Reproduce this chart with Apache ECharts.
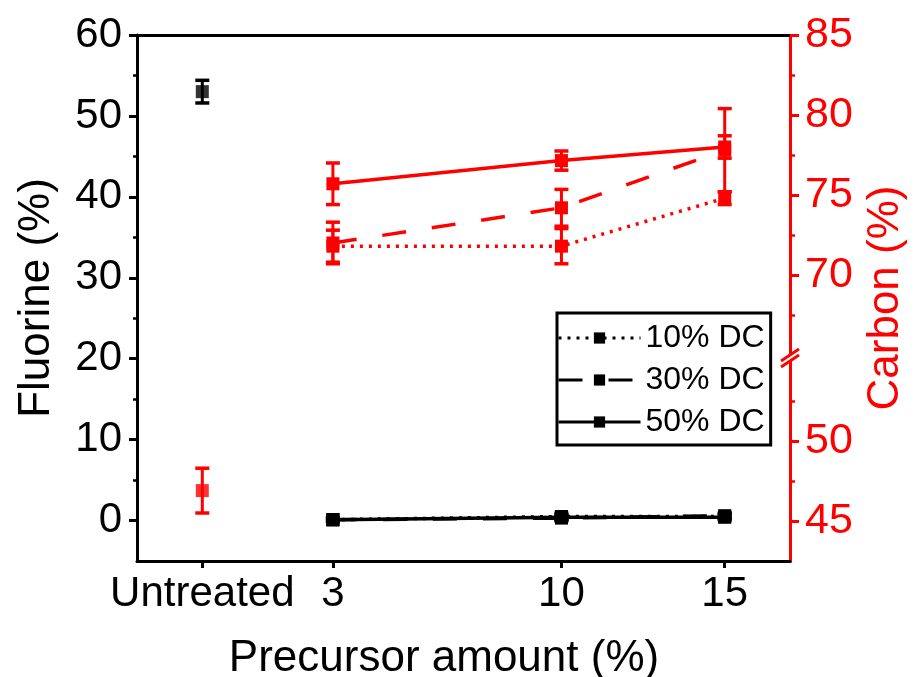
<!DOCTYPE html>
<html><head><meta charset="utf-8">
<script src="https://cdn.jsdelivr.net/npm/echarts@6/dist/echarts.min.js"></script>
<style>html,body{margin:0;padding:0;background:#fff}#c{width:915px;height:677px}</style>
</head><body><div id="c"></div>
<script>
// ---------- data ----------
const seriesNames = ['10% DC', '30% DC', '50% DC'];
const precursor = [3, 10, 15];
const untreatedX = -1;
const xTickValues = [-1, 3, 10, 15];
const xTickLabels = ['Untreated', '3', '10', '15'];
const fluorineTicks = [0, 10, 20, 30, 40, 50, 60];
const fluorineMinorTicks = [5, 15, 25, 35, 45, 55];
const carbonTicks = [45, 50, 70, 75, 80, 85];
const carbonMinorTicks = [47.5, 52.5, 67.5, 72.5, 77.5, 82.5];

// Fluorine (%) - left axis
const fluorine10 = [0.1, 0.5, 0.5];
const fluorine30 = [0.1, 0.3, 0.6];
const fluorine50 = [0.1, 0.4, 0.4];
const fluorineErr10 = [0.2, 0.4, 0.3];
const fluorineErr30 = [0.2, 0.3, 0.3];
const fluorineErr50 = [0.2, 0.3, 0.3];
const fluorineUntreated = [53.0];
const fluorineUntreatedErr = [1.4];

// Carbon (%) - right axis
const carbon10 = [71.8, 71.8, 74.8];
const carbon30 = [72.0, 74.2, 77.8];
const carbon50 = [75.7, 77.15, 78.0];
const carbonErr10 = [1.0, 1.1, 0.4];
const carbonErr30 = [1.3, 1.15, 2.6];
const carbonErr50 = [1.3, 0.6, 0.7];
const carbonUntreated = [46.9];
const carbonUntreatedErr = [1.4];

// ---------- chart ----------
const FONT = 'Liberation Sans, Arial, sans-serif';
const RED = '#ff0000';
const BLACK = '#000000';
const dashTypes = [[3, 6], [24, 26], 'solid'];

const chart = echarts.init(document.getElementById('c'), null, { renderer: 'canvas' });

function pts(xs, ys) { return xs.map((x, i) => [x, ys[i]]); }
function errPts(xs, ys, es) { return xs.map((x, i) => [x, ys[i] - es[i], ys[i] + es[i]]); }

function lineSeries(name, data, yAxisIndex, color, dash) {
  return {
    type: 'line', name: name, data: data, xAxisIndex: 0, yAxisIndex: yAxisIndex,
    symbol: 'rect', symbolSize: 13, showSymbol: true,
    itemStyle: { color: color },
    lineStyle: { color: color, width: 3.5, type: dash },
    z: 4
  };
}
function errorSeries(name, data, yAxisIndex, color) {
  return {
    type: 'custom', name: name, data: data, xAxisIndex: 0, yAxisIndex: yAxisIndex,
    silent: true, z: 3,
    encode: { x: 0, y: [1, 2] },
    renderItem: function (params, api) {
      const x = api.value(0), lo = api.value(1), hi = api.value(2);
      const p1 = api.coord([x, lo]);
      const p2 = api.coord([x, hi]);
      const hw = 7;
      const st = { stroke: color, lineWidth: 3 };
      const cap = { stroke: color, lineWidth: 3.5 };
      return { type: 'group', children: [
        { type: 'line', shape: { x1: p1[0], y1: p1[1], x2: p2[0], y2: p2[1] }, style: st },
        { type: 'line', shape: { x1: p1[0] - hw, y1: p1[1], x2: p1[0] + hw, y2: p1[1] }, style: cap },
        { type: 'line', shape: { x1: p2[0] - hw, y1: p2[1], x2: p2[0] + hw, y2: p2[1] }, style: cap }
      ]};
    }
  };
}

const fl = [fluorine10, fluorine30, fluorine50];
const flE = [fluorineErr10, fluorineErr30, fluorineErr50];
const ca = [carbon10, carbon30, carbon50];
const caE = [carbonErr10, carbonErr30, carbonErr50];

const series = [];
seriesNames.forEach((n, i) => series.push(lineSeries(n, pts(precursor, fl[i]), 0, BLACK, dashTypes[i])));
seriesNames.forEach((n, i) => series.push(lineSeries(n, pts(precursor, ca[i]), 1, RED, dashTypes[i])));
seriesNames.forEach((n, i) => series.push(errorSeries('F err ' + n, errPts(precursor, fl[i], flE[i]), 0, BLACK)));
seriesNames.forEach((n, i) => series.push(errorSeries('C err ' + n, errPts(precursor, ca[i], caE[i]), 1, RED)));
series.push(errorSeries('F err untreated', errPts([untreatedX], fluorineUntreated, fluorineUntreatedErr), 0, BLACK));
series.push(errorSeries('C err untreated', errPts([untreatedX], carbonUntreated, carbonUntreatedErr), 1, RED));
series.push({ type: 'scatter', name: 'F untreated', data: pts([untreatedX], fluorineUntreated), xAxisIndex: 0, yAxisIndex: 0,
  symbol: 'rect', symbolSize: 13, itemStyle: { color: BLACK }, z: 4 });
series.push({ type: 'scatter', name: 'C untreated', data: pts([untreatedX], carbonUntreated), xAxisIndex: 0, yAxisIndex: 1,
  symbol: 'rect', symbolSize: 13, itemStyle: { color: RED }, z: 4 });

const carbonBreaks = [{ start: 55, end: 65, gap: '1.15%' }];

const option = {
  animation: false,
  backgroundColor: '#ffffff',
  textStyle: { fontFamily: FONT },
  grid: { left: 137, right: 125, top: 35, bottom: 116, containLabel: false, outerBoundsMode: 'none' },
  legend: {
    data: seriesNames.map((n, i) => ({ name: n, lineStyle: { width: 3, type: dashTypes[i], color: BLACK } })),
    orient: 'vertical',
    left: 557, top: 313,
    padding: [9, 6, 7, 0],
    itemGap: 10,
    itemWidth: 82, itemHeight: 14,
    borderColor: BLACK, borderWidth: 3,
    backgroundColor: '#ffffff',
    lineStyle: { width: 3 },
    textStyle: { fontSize: 32, color: BLACK, fontFamily: FONT, lineHeight: 30 },
    selectedMode: false
  },
  xAxis: [
    {
      type: 'value', position: 'bottom', min: -3, max: 17,
      axisLine: { show: true, onZero: false, lineStyle: { color: BLACK, width: 3 } },
      axisTick: { show: true, inside: false, length: 7, customValues: xTickValues, lineStyle: { color: BLACK, width: 3 } },
      axisLabel: { customValues: xTickValues, color: BLACK, fontSize: 42, margin: 12, fontFamily: FONT,
        formatter: function (v) { const k = xTickValues.indexOf(v); return k >= 0 ? xTickLabels[k] : ''; } },
      splitLine: { show: false },
      name: 'Precursor amount (%)', nameLocation: 'middle', nameGap: 76,
      nameTextStyle: { fontSize: 44, color: BLACK, fontFamily: FONT, padding: [0, 39, 0, 0] }
    },
    {
      type: 'value', position: 'top', min: -3, max: 17,
      axisLine: { show: true, onZero: false, lineStyle: { color: BLACK, width: 3 } },
      axisTick: { show: false }, axisLabel: { show: false }, splitLine: { show: false }
    }
  ],
  yAxis: [
    {
      type: 'value', position: 'left', min: -5, max: 60,
      axisLine: { show: true, onZero: false, lineStyle: { color: BLACK, width: 3 } },
      axisTick: { show: true, inside: false, length: 8, customValues: fluorineTicks, lineStyle: { color: BLACK, width: 3 } },
      axisLabel: { customValues: fluorineTicks, color: BLACK, fontSize: 42, margin: 15, fontFamily: FONT },
      splitLine: { show: false },
      name: 'Fluorine (%)', nameLocation: 'middle', nameGap: 78,
      nameTextStyle: { fontSize: 44, color: BLACK, fontFamily: FONT }
    },
    {
      type: 'value', position: 'right', min: 42.5, max: 85,
      breaks: carbonBreaks,
      breakArea: { show: false },
      axisLine: { show: true, onZero: false, lineStyle: { color: RED, width: 3 } },
      axisTick: { show: true, inside: false, length: 9, customValues: carbonTicks, lineStyle: { color: RED, width: 3 } },
      axisLabel: { customValues: carbonTicks, color: RED, fontSize: 43, margin: 15, fontFamily: FONT },
      splitLine: { show: false },
      name: 'Carbon (%)', nameLocation: 'middle', nameGap: 70,
      nameTextStyle: { fontSize: 44, color: RED, fontFamily: FONT }
    },
    {
      type: 'value', position: 'left', min: -5, max: 60,
      axisLine: { show: false, onZero: false },
      axisTick: { show: true, inside: false, length: 4, customValues: fluorineMinorTicks, lineStyle: { color: BLACK, width: 2.5 } },
      axisLabel: { show: false }, splitLine: { show: false }
    },
    {
      type: 'value', position: 'right', min: 42.5, max: 85,
      breaks: carbonBreaks,
      breakArea: { show: false },
      axisLine: { show: false, onZero: false },
      axisTick: { show: true, inside: false, length: 5, customValues: carbonMinorTicks, lineStyle: { color: RED, width: 2.5 } },
      axisLabel: { show: false }, splitLine: { show: false }
    }
  ],
  series: series
};

chart.setOption(option);

// axis-break marks on the right (carbon) axis, placed through the axis scale
const yLo = chart.convertToPixel({ yAxisIndex: 1 }, 55);
const yHi = chart.convertToPixel({ yAxisIndex: 1 }, 65);
const xR = chart.convertToPixel({ xAxisIndex: 0 }, 17);
const yMid = (yLo + yHi) / 2;
chart.setOption({
  graphic: [
    { type: 'rect', shape: { x: xR - 4, y: yMid - 3, width: 8, height: 6 }, style: { fill: '#ffffff' }, z: 100 },
    { type: 'line', shape: { x1: xR - 9, y1: yMid + 3 + 6, x2: xR + 9, y2: yMid + 3 - 6 }, style: { stroke: RED, lineWidth: 3 }, z: 101 },
    { type: 'line', shape: { x1: xR - 9, y1: yMid - 3 + 6, x2: xR + 9, y2: yMid - 3 - 6 }, style: { stroke: RED, lineWidth: 3 }, z: 101 }
  ]
});
</script>
</body></html>
